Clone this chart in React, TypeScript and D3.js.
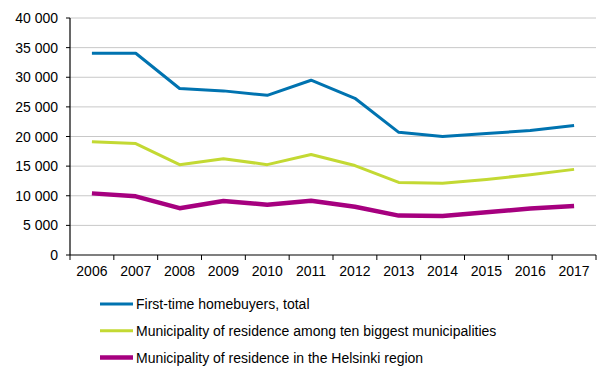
import React from "react";
import * as d3 from "d3";

const years = ["2006","2007","2008","2009","2010","2011","2012","2013","2014","2015","2016","2017"];
const totalBuyers = [34050, 34050, 28100, 27700, 26950, 29500, 26450, 20700, 20000, 20500, 21000, 21850];
const tenBiggest = [19100, 18800, 15250, 16250, 15250, 16950, 15100, 12250, 12100, 12750, 13550, 14450];
const helsinki = [10400, 9900, 7900, 9100, 8500, 9150, 8150, 6650, 6600, 7200, 7850, 8250];
const yTicks = [0, 5000, 10000, 15000, 20000, 25000, 30000, 35000, 40000];
const seriesNames = [
  "First-time homebuyers, total",
  "Municipality of residence among ten biggest municipalities",
  "Municipality of residence in the Helsinki region",
];
const seriesColors = ["#0073b0", "#c3d933", "#a6007f"];
const seriesWidths = [3, 3, 4.5];

export default function App() {
  const W = 616, H = 379;
  const x0 = 70, x1 = 596, yTop = 18, yBot = 255;
  const x = d3.scaleBand<string>().domain(years).range([x0, x1]);
  const y = d3.scaleLinear().domain([0, 40000]).range([yBot, yTop]);
  const fmt = (v: number) => d3.format(",")(v).replace(/,/g, "\u00a0");
  const data = [totalBuyers, tenBiggest, helsinki];
  const line = d3.line<number>()
    .x((_, i) => (x(years[i]) as number) + x.bandwidth() / 2)
    .y((d) => y(d));
  const font = "Arial, 'Liberation Sans', sans-serif";
  return (
    <svg width={W} height={H} style={{ position: "absolute", left: 0, top: 0, background: "#fff" }} fontFamily={font}>
      {yTicks.map((t) => (
        <g key={t}>
          {t > 0 && <line x1={x0} x2={x1} y1={y(t)} y2={y(t)} stroke="#c8c8c8" strokeWidth={1} />}
          <line x1={x0 - 4} x2={x0} y1={y(t)} y2={y(t)} stroke="#000" />
          <text x={58} y={y(t)} dy="0.36em" textAnchor="end" fontSize={14} fill="#000">{fmt(t)}</text>
        </g>
      ))}
      <line x1={x0} x2={x0} y1={yTop} y2={yBot} stroke="#000" strokeWidth={1.2} />
      <line x1={x0} x2={x1} y1={yBot} y2={yBot} stroke="#000" strokeWidth={1.2} />
      {years.map((yr, i) => (
        <g key={yr}>
          <line x1={x(yr) as number} x2={x(yr) as number} y1={yBot} y2={yBot + 5} stroke="#000" />
          {i === years.length - 1 && (
            <line x1={x1} x2={x1} y1={yBot} y2={yBot + 5} stroke="#000" />
          )}
          <text x={(x(yr) as number) + x.bandwidth() / 2} y={276} textAnchor="middle" fontSize={14} fill="#000">{yr}</text>
        </g>
      ))}
      {data.map((d, i) => (
        <path key={i} d={line(d) as string} fill="none" stroke={seriesColors[i]} strokeWidth={seriesWidths[i]} strokeLinejoin="round" />
      ))}
      {seriesNames.map((n, i) => {
        const ly = 304 + i * 26.8;
        return (
          <g key={n}>
            <line x1={100} x2={133} y1={ly} y2={ly} stroke={seriesColors[i]} strokeWidth={seriesWidths[i]} />
            <text x={136} y={ly} dy="0.36em" fontSize={14} fill="#000">{n}</text>
          </g>
        );
      })}
    </svg>
  );
}
